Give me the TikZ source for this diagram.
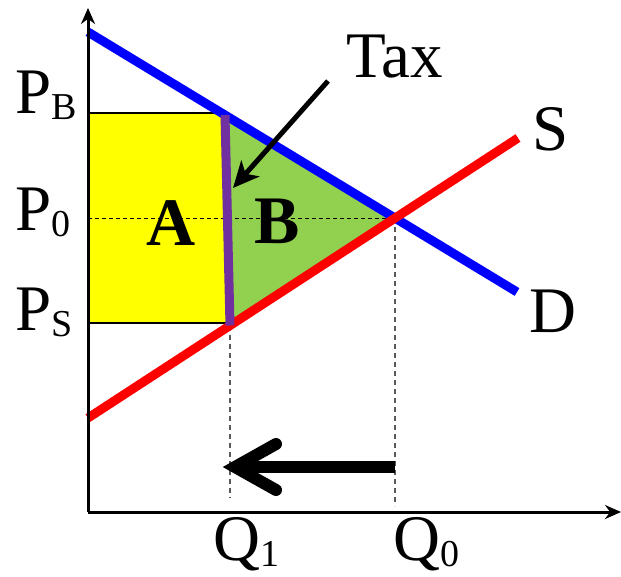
\documentclass[tikz,border=0pt]{standalone}
\usepackage{fontspec}
\setmainfont{Liberation Serif}
\usetikzlibrary{arrows.meta}
\definecolor{yel}{RGB}{255,255,0}
\definecolor{grn}{RGB}{146,208,80}
\definecolor{purp}{RGB}{112,48,160}
\definecolor{dgrey}{RGB}{90,90,90}
\newcommand\mysub[1]{\raisebox{-6pt}{\fontsize{38}{38}\selectfont #1}}
\tikzset{
  lbl/.style={inner sep=0pt, anchor=base west, font=\fontsize{65}{65}\selectfont},
  area/.style={inner sep=0pt, anchor=base west, font=\fontsize{68}{68}\selectfont\bfseries},
  curve/.style={line width=9pt, line cap=butt},
  axis/.style={line width=3pt, -{Stealth[length=16pt,width=14pt]}},
  guide/.style={dgrey, line width=1.8pt, dash pattern=on 5pt off 4pt},
  pzero/.style={black, line width=1pt, dash pattern=on 4pt off 3pt},
  thin/.style={black, line width=1.2pt}
}
\begin{document}
\begin{tikzpicture}[x=1pt,y=-1pt]
\useasboundingbox (0,0) rectangle (621,576);
% key points
\coordinate (O) at (88,512);
\coordinate (Ytop) at (88,8);
\coordinate (Xend) at (621,512);
\coordinate (D1) at (88,32);
\coordinate (D2) at (517,292);
\coordinate (S1) at (88,418);
\coordinate (S2) at (518,138);
\coordinate (E) at (395,218);
\coordinate (Tt) at (225,115);
\coordinate (Tb) at (230,325.5);
\coordinate (PBl) at (88,113);
\coordinate (PBr) at (222,113);
\coordinate (PSl) at (88,323);
\coordinate (PSr) at (226,323);
\coordinate (P0l) at (88,218);
\coordinate (Q1b) at (230,498);
\coordinate (Q0b) at (395,506);
% areas
\fill[yel] (PBl) rectangle (PSr);
\fill[grn] (Tt) -- (E) -- (Tb) -- cycle;
\draw[thin] (PBl) -- (PBr);
\draw[thin] (PSl) -- (PSr);
% guides
\draw[pzero] (P0l) -- (E);
\draw[guide] (Tb) -- (Q1b);
\draw[guide] (E) -- (Q0b);
% curves
\draw[curve, blue] (D1) -- (D2);
\draw[curve, red] (S1) -- (S2);
\draw[line width=9pt, purp] (Tt) -- (Tb);
% axes
\draw[axis] (O) -- (Ytop);
\draw[axis] (O) -- (Xend);
% tax arrow
\coordinate (Ts) at (328,81);
\coordinate (Tp) at (233,188);
\draw[line width=5pt, -{Stealth[length=26pt,width=24pt,inset=7pt]}] (Ts) -- (Tp);
% quantity arrow
\coordinate (Ar) at (395,467);
\coordinate (Al) at (240,467);
\coordinate (Atip) at (235,467);
\coordinate (Au) at (276,444);
\coordinate (Ad) at (276,490);
\draw[line width=12pt, line cap=butt] (Ar) -- (Al);
\draw[line width=12pt, line cap=round, line join=miter] (Au) -- (Atip) -- (Ad);
% labels
\node[lbl] (lPB) at (15,113) {P\mysub{B}};
\node[lbl] (lP0) at (15,230) {P\mysub{0}};
\node[lbl] (lPS) at (15,330) {P\mysub{S}};
\node[lbl] (lQ1) at (213,560) {Q\mysub{1}};
\node[lbl] (lQ0) at (393,560) {Q\mysub{0}};
\node[lbl] (lS) at (532,150) {S};
\node[lbl] (lD) at (529,332) {D};
\node[lbl] (lTax) at (346,77) {Tax};
\node[area] (lA) at (146,245) {A};
\node[area] (lB) at (254,243) {B};
\end{tikzpicture}
\end{document}
